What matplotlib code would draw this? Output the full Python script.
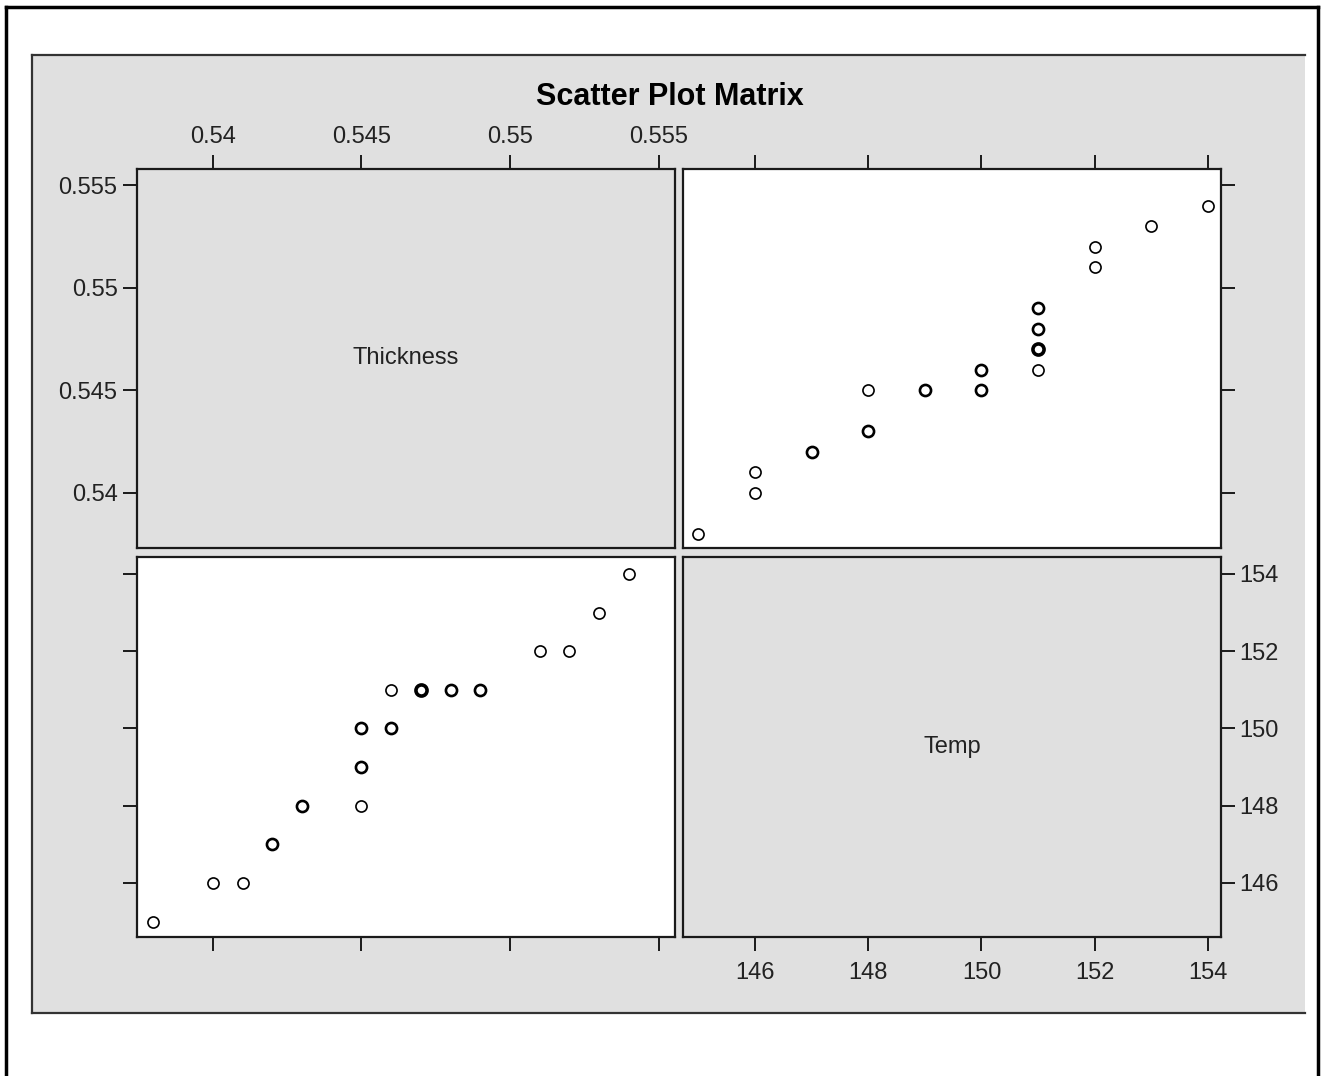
import numpy as np
import matplotlib
matplotlib.use("Agg")
import matplotlib.pyplot as plt
from matplotlib.lines import Line2D
from matplotlib.patches import Rectangle

# data (repeated pairs show up as heavier circles)
thickness = [0.538, 0.540, 0.541, 0.542, 0.542, 0.543, 0.543, 0.545, 0.545, 0.545,
             0.545, 0.545, 0.546, 0.546, 0.546, 0.547, 0.547, 0.547, 0.548, 0.548,
             0.549, 0.549, 0.551, 0.552, 0.553, 0.554]
temp = [145, 146, 146, 147, 147, 148, 148, 148, 149, 149,
        150, 150, 150, 150, 151, 151, 151, 151, 151, 151,
        151, 151, 152, 152, 153, 154]

thick_ticks = [0.54, 0.545, 0.55, 0.555]
thick_labels = ["0.54", "0.545", "0.55", "0.555"]
temp_ticks = [146, 148, 150, 152, 154]
temp_labels = ["146", "148", "150", "152", "154"]

title = "Scatter Plot Matrix"
var_names = ["Thickness", "Temp"]

W, H = 1323, 1076
GRAY = "#e0e0e0"
EDGE = "#1a1a1a"
plt.rcParams["font.family"] = ["Liberation Sans", "DejaVu Sans"]

fig = plt.figure(figsize=(W / 100, H / 100), dpi=100)
fig.patch.set_facecolor("white")


def px_rect(x0, y0, x1, y1):
    return [x0 / W, 1 - y1 / H, (x1 - x0) / W, (y1 - y0) / H]


def fig_line(xs, ys, color, lw):
    fig.add_artist(Line2D([x / W for x in xs], [1 - y / H for y in ys],
                          transform=fig.transFigure, color=color, lw=lw, zorder=-1))


# gray plotting area and outer frame
fig.add_artist(Rectangle((32 / W, 1 - 1013 / H), (1305 - 32) / W, (1013 - 55) / H,
                         transform=fig.transFigure, facecolor=GRAY,
                         edgecolor="none", zorder=-2))
fig_line([32, 1305], [55, 55], "#333333", 1.6)
fig_line([32, 32], [55, 1013], "#333333", 1.6)
fig_line([32, 1305], [1013, 1013], "#333333", 1.6)
fig_line([6, 1318], [7, 7], "black", 2.5)
fig_line([6, 6], [7, 1076], "black", 2.5)
fig_line([1318, 1318], [7, 1076], "black", 2.5)

fig.text(670 / W, 1 - 97 / H, title, ha="center", va="center",
         fontsize=22, fontweight="bold")

thick_lim = (0.53745, 0.55555)
thick_ylim = (0.53732, 0.55578)
temp_xlim = (144.73, 154.23)
temp_ylim = (144.60, 154.44)


def style(ax, face):
    ax.set_facecolor(face)
    for s in ax.spines.values():
        s.set_color(EDGE)
        s.set_linewidth(1.6)
    ax.tick_params(direction="out", length=10, width=1.4, color=EDGE,
                   labelsize=17, labelcolor="#222222",
                   top=False, bottom=False, left=False, right=False,
                   labeltop=False, labelbottom=False, labelleft=False, labelright=False)


def scatter(ax, xs, ys):
    pairs, counts = np.unique(np.column_stack([xs, ys]), axis=0, return_counts=True)
    for (x, y), c in zip(pairs, counts):
        ax.plot(x, y, "o", ms=8, mfc="white", mec="black", mew=1.2 + 0.7 * (c - 1))


# upper-left: Thickness diagonal
ax = fig.add_axes(px_rect(137, 169, 675, 548))
style(ax, GRAY)
ax.set_xlim(thick_lim)
ax.set_ylim(thick_ylim)
ax.set_xticks(thick_ticks, thick_labels)
ax.set_yticks(thick_ticks, thick_labels)
ax.tick_params(top=True, labeltop=True, left=True, labelleft=True)
ax.tick_params(axis="x", pad=5)
ax.tick_params(axis="y", pad=4)
ax.text(0.5, 0.5, var_names[0], transform=ax.transAxes, ha="center", va="center",
        fontsize=17, color="#222222")

# upper-right: Thickness vs Temp
ax = fig.add_axes(px_rect(683, 169, 1221, 548))
style(ax, "white")
ax.set_xlim(temp_xlim)
ax.set_ylim(thick_ylim)
ax.set_xticks(temp_ticks)
ax.set_yticks(thick_ticks)
ax.tick_params(top=True, right=True)
scatter(ax, temp, thickness)

# lower-left: Temp vs Thickness
ax = fig.add_axes(px_rect(137, 557, 675, 937))
style(ax, "white")
ax.set_xlim(thick_lim)
ax.set_ylim(temp_ylim)
ax.set_xticks(thick_ticks)
ax.set_yticks(temp_ticks)
ax.tick_params(bottom=True, left=True)
scatter(ax, thickness, temp)

# lower-right: Temp diagonal
ax = fig.add_axes(px_rect(683, 557, 1221, 937))
style(ax, GRAY)
ax.set_xlim(temp_xlim)
ax.set_ylim(temp_ylim)
ax.set_xticks(temp_ticks, temp_labels)
ax.set_yticks(temp_ticks, temp_labels)
ax.tick_params(bottom=True, labelbottom=True, right=True, labelright=True)
ax.tick_params(axis="x", pad=8)
ax.tick_params(axis="y", pad=3)
ax.text(0.5, 0.5, var_names[1], transform=ax.transAxes, ha="center", va="center",
        fontsize=17, color="#222222")

fig.savefig("out.png", dpi=100)
